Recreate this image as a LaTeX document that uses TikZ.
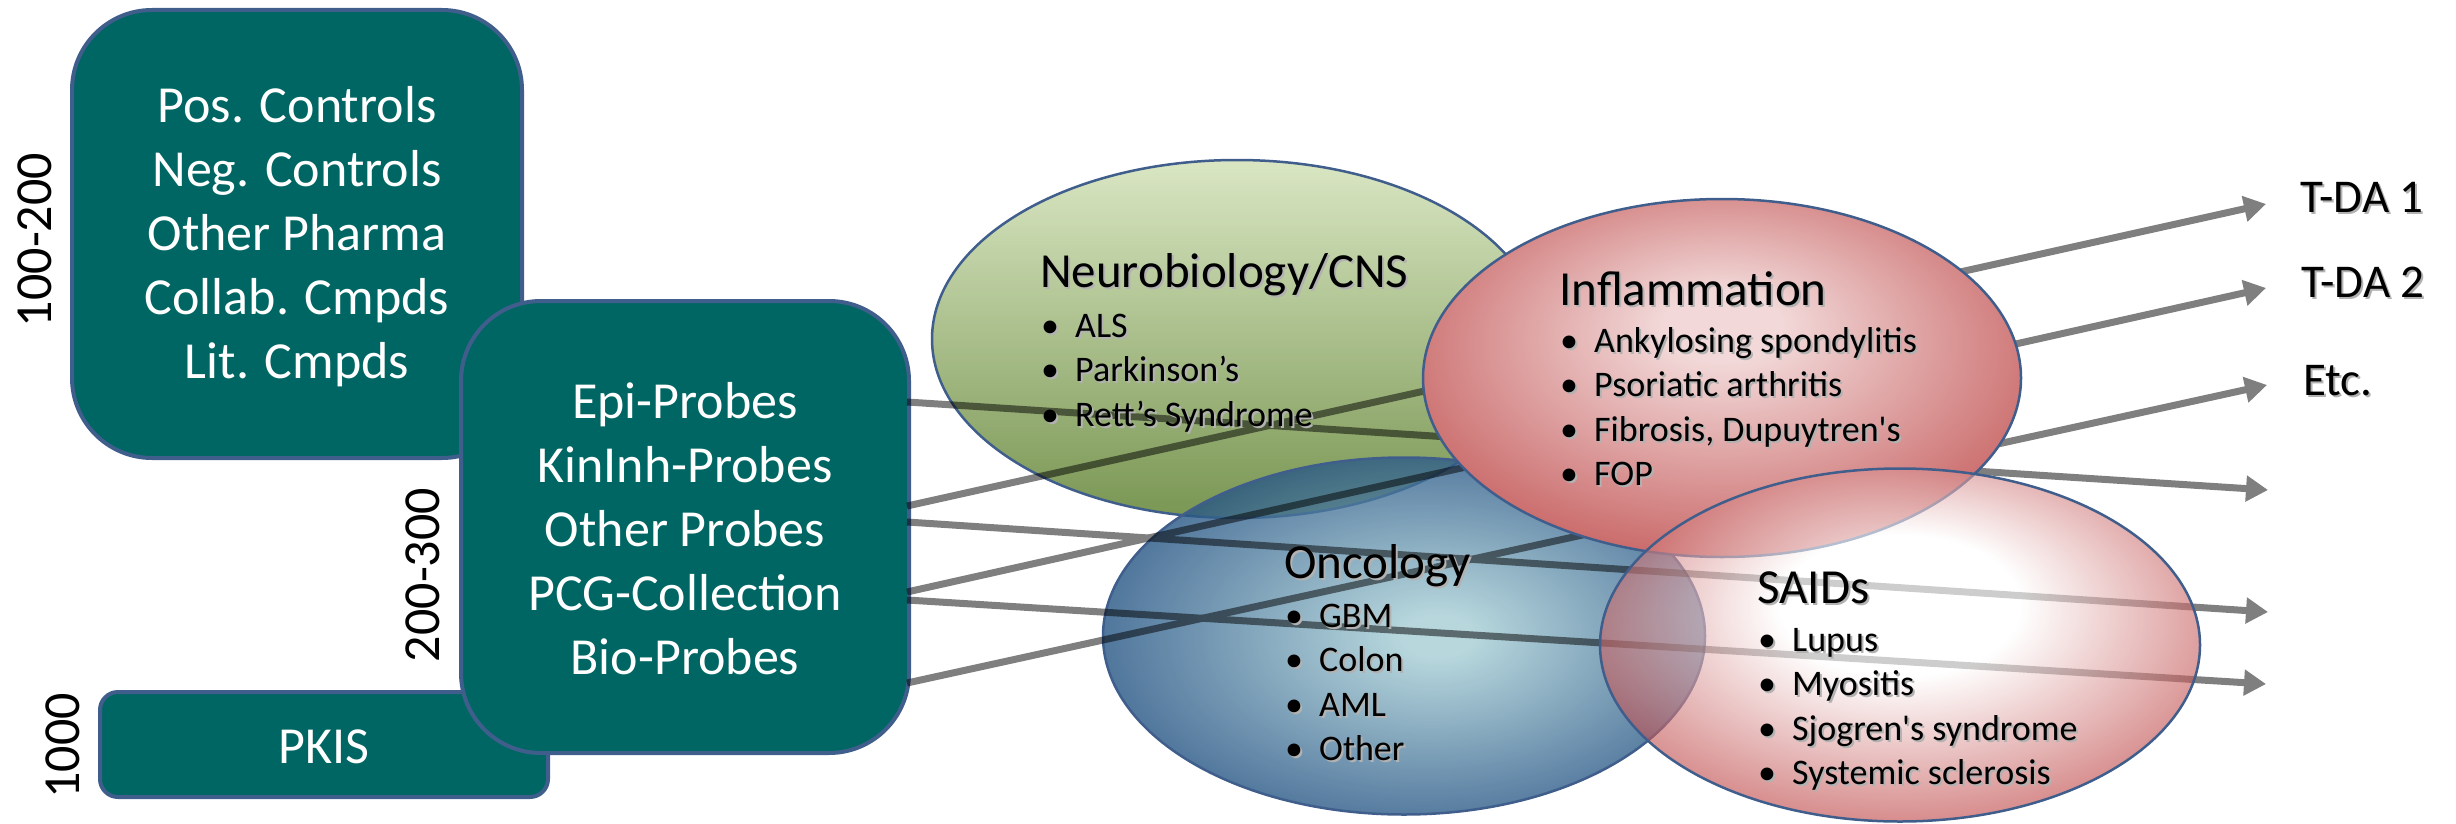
\documentclass[tikz,border=0pt]{standalone}
\usepackage{fontspec}
\setmainfont{Carlito}
\usetikzlibrary{arrows.meta,shapes.geometric}

\definecolor{boxteal}{RGB}{0,102,99}
\definecolor{rimblue}{RGB}{64,94,140}
\definecolor{neuTop}{RGB}{208,224,180}
\definecolor{neuBot}{RGB}{88,124,40}
\definecolor{infIn}{RGB}{242,216,216}
\definecolor{infOut}{RGB}{200,100,100}
\definecolor{oncIn}{RGB}{165,205,212}
\definecolor{oncOut}{RGB}{28,76,126}
\definecolor{saiIn}{RGB}{255,255,255}
\definecolor{saiOut}{RGB}{180,40,40}

% radial fills of the topic ellipses (light spot slightly off centre)
\pgfdeclareradialshading{infshade}{\pgfpoint{0bp}{8bp}}{color(0bp)=(infIn); color(5bp)=(infIn); color(30bp)=(infOut); color(50bp)=(infOut)}
\pgfdeclareradialshading{oncshade}{\pgfpoint{3bp}{0bp}}{color(0bp)=(oncIn); color(3bp)=(oncIn); color(28bp)=(oncOut); color(50bp)=(oncOut)}
\pgfdeclareradialshading{saishade}{\pgfpoint{0bp}{7bp}}{color(0bp)=(saiIn); color(10bp)=(saiIn); color(31bp)=(saiOut); color(50bp)=(saiOut)}

% text with a soft drop shadow
\newcommand\shd[1]{\leavevmode\rlap{\kern2pt\raisebox{-2pt}{\textcolor{black!30}{#1}}}#1}
% bullet item
\newcommand\itm[1]{\makebox[34pt][l]{\textbullet}#1}

\begin{document}
\begin{tikzpicture}[x=1pt,y=-1pt,
  stock/.style={draw=rimblue, line width=4pt, fill=boxteal, inner sep=0pt},
  stocktext/.style={anchor=base, inner sep=0pt, text=white, font=\fontsize{52}{64}\selectfont},
  tally/.style={rotate=90, inner sep=0pt, font=\fontsize{52}{60}\selectfont},
  area/.style={ellipse, draw=rimblue, line width=2.5pt, inner sep=0pt},
  ttl/.style={anchor=base west, inner sep=0pt, font=\fontsize{49}{58}\selectfont},
  bul/.style={anchor=base west, inner sep=0pt, font=\fontsize{36}{44.5}\selectfont},
  goal/.style={anchor=base west, inner sep=0pt, font=\fontsize{47}{56}\selectfont},
  link/.style={draw=black, line width=7pt, -{Triangle[length=22pt,width=25pt]}}
]
\useasboundingbox (0,0) rectangle (2456,824);

% compound collections
\node[stock, minimum width=450pt, minimum height=448pt, rounded corners=80pt] (ctrl) at (297,234) {};
\node[stock, minimum width=448pt, minimum height=105pt, rounded corners=18pt] (pkis) at (324,744.5) {};
\node[stock, minimum width=448pt, minimum height=452pt, rounded corners=80pt] (probes) at (685,527) {};

\node[stocktext] (ctrl-t) at (297,122)
  {\begin{tabular}[t]{@{}c@{}}Pos. Controls\\ Neg. Controls\\ Other Pharma\\ Collab. Cmpds\\ Lit. Cmpds\end{tabular}};
\node[stocktext] (pkis-t) at (324,763) {PKIS};
\node[stocktext] (probes-t) at (685,418)
  {\begin{tabular}[t]{@{}c@{}}Epi-Probes\\ KinInh-Probes\\ Other Probes\\ PCG-Collection\\ Bio-Probes\end{tabular}};

% collection sizes
\node[tally] (n1) at (35,240) {100-200};
\node[tally] (n2) at (423,575) {200-300};
\node[tally] (n3) at (63,746) {1000};

% connector ends
\coordinate (o1) at (907,402);
\coordinate (o2) at (907,506);
\coordinate (o3) at (907,522);
\coordinate (o4) at (907,592);
\coordinate (o5) at (907,600);
\coordinate (o6) at (907,683);
\coordinate (t1) at (2266,204);
\coordinate (t2) at (2266,288);
\coordinate (t3) at (2267,385);
\coordinate (t4) at (2268,490);
\coordinate (t5) at (2268,612);
\coordinate (t6) at (2266,684);

% two lower areas
\node[area, top color=neuTop, bottom color=neuBot, fill opacity=0.8,
      minimum width=610pt, minimum height=358pt] (neuro) at (1237,339) {};
\node[area, shading=oncshade, fill opacity=0.8,
      minimum width=602pt, minimum height=357pt] (onco) at (1404,636) {};

% translucent grey connectors
\begin{scope}[transparency group, opacity=0.5]
\draw[link] (o1) -- (t4);
\draw[link] (o2) -- (t1);
\draw[link] (o3) -- (t5);
\draw[link] (o4) -- (t2);
\draw[link] (o5) -- (t6);
\draw[link] (o6) -- (t3);
\end{scope}

% upper areas
\node[area, shading=infshade,
      minimum width=598pt, minimum height=358pt] (infl) at (1722,378) {};
\node[area, shading=saishade, fill opacity=0.62,
      minimum width=600pt, minimum height=353pt] (saids) at (1900,645) {};

% area texts
\node[ttl] (neuro-t) at (1040,287) {\shd{Neurobiology/CNS}};
\node[bul] (neuro-l) at (1041,337) {\begin{tabular}[t]{@{}l@{}}\shd{\itm{ALS}}\\ \shd{\itm{Parkinson’s}}\\ \shd{\itm{Rett’s Syndrome}}\end{tabular}};

\node[ttl] (infl-t) at (1559,305) {\shd{Inflammation}};
\node[bul] (infl-l) at (1560,352) {\begin{tabular}[t]{@{}l@{}}\shd{\itm{Ankylosing spondylitis}}\\ \shd{\itm{Psoriatic arthritis}}\\ \shd{\itm{Fibrosis, Dupuytren\textquotesingle s}}\\ \shd{\itm{FOP}}\end{tabular}};

\node[ttl] (onco-t) at (1284,578) {\shd{Oncology}};
\node[bul] (onco-l) at (1285,627) {\begin{tabular}[t]{@{}l@{}}\shd{\itm{GBM}}\\ \shd{\itm{Colon}}\\ \shd{\itm{AML}}\\ \shd{\itm{Other}}\end{tabular}};

\node[ttl] (saids-t) at (1757,603) {\shd{SAIDs}};
\node[bul] (saids-l) at (1758,651) {\begin{tabular}[t]{@{}l@{}}\shd{\itm{Lupus}}\\ \shd{\itm{Myositis}}\\ \shd{\itm{Sjogren\textquotesingle s syndrome}}\\ \shd{\itm{Systemic sclerosis}}\end{tabular}};

% targets
\node[goal] (g1) at (2300,212) {\shd{T-DA 1}};
\node[goal] (g2) at (2301,297) {\shd{T-DA 2}};
\node[goal] (g3) at (2303,395) {\shd{Etc.}};
\end{tikzpicture}
\end{document}
